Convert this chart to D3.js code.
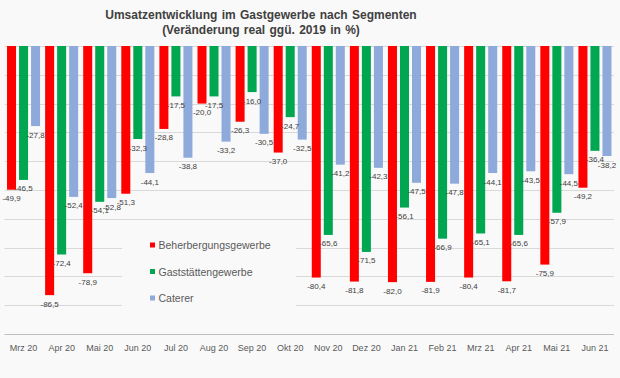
<!DOCTYPE html>
<html>
<head>
<meta charset="utf-8">
<script src="https://cdn.jsdelivr.net/npm/d3@7"></script>
<style>
  html, body { margin: 0; padding: 0; background: #f9f9f9; }
  svg { display: block; font-family: "Liberation Sans", Arial, sans-serif; }
</style>
</head>
<body>
<svg id="chart" width="620" height="378"></svg>
<script>
const categories = ["Mrz 20","Apr 20","Mai 20","Jun 20","Jul 20","Aug 20","Sep 20","Okt 20","Nov 20","Dez 20","Jan 21","Feb 21","Mrz 21","Apr 21","Mai 21","Jun 21"];
const seriesNames = ["Beherbergungsgewerbe","Gaststättengewerbe","Caterer"];
const beherbergung = [-49.9,-86.5,-78.9,-51.3,-28.8,-20.0,-26.3,-37.0,-80.4,-81.8,-82.0,-81.9,-80.4,-81.7,-75.9,-49.2];
const gaststaetten = [-46.5,-72.4,-54.1,-32.3,-17.5,-17.5,-16.0,-24.7,-65.6,-71.5,-56.1,-66.9,-65.1,-65.6,-57.9,-36.4];
const caterer = [-27.8,-52.4,-52.8,-44.1,-38.8,-33.2,-30.5,-32.5,-41.2,-42.3,-47.5,-47.8,-44.1,-43.5,-44.5,-38.2];
const yTicks = [0,-10,-20,-30,-40,-50,-60,-70,-80,-90,-100];
const colors = ["#ff0000","#00a650","#8eaadb"];

const seriesValues = [beherbergung, gaststaetten, caterer];
const svg = d3.select("#chart");

const x0 = d3.scaleBand().domain(categories).range([4.5, 614]).paddingInner(0).paddingOuter(0);
const x1 = d3.scaleBand().domain(seriesNames).range([0, x0.bandwidth()]).paddingInner(0.25).paddingOuter(0.21);
const y = d3.scaleLinear().domain([0, -100]).range([46, 334]);

// gridlines
svg.append("g").selectAll("line").data(yTicks.filter(t => t !== -100)).join("line")
  .attr("x1", 4.5).attr("x2", 614)
  .attr("y1", d => Math.round(y(d)) + 0.5).attr("y2", d => Math.round(y(d)) + 0.5)
  .attr("stroke", "#d9d9d9").attr("stroke-width", 1);

// legend background box (hides gridlines)
svg.append("rect").attr("x", 122).attr("y", 228).attr("width", 174).attr("height", 82).attr("fill", "#f9f9f9");

// x axis
const xAxis = d3.axisBottom(x0).tickSize(0).tickPadding(10);
const gx = svg.append("g").attr("transform", `translate(0,${Math.round(y(-100)) + 0.5})`).call(xAxis);
gx.select(".domain").attr("stroke", "#bfbfbf").attr("d", `M4.5,0H614`);
gx.selectAll("text").attr("fill", "#595959").style("font-size", "9px").style("font-family", "Liberation Sans, Arial, sans-serif");

// bars
const groups = svg.append("g").selectAll("g").data(seriesNames).join("g")
  .attr("fill", (d, i) => colors[i]);
groups.each(function(name, si) {
  d3.select(this).selectAll("rect").data(seriesValues[si]).join("rect")
    .attr("x", (v, i) => x0(categories[i]) + x1(name))
    .attr("y", y(0))
    .attr("width", x1.bandwidth())
    .attr("height", v => y(v) - y(0));
});

// labels
const fmt = v => d3.format(".1f")(v).replace("−", "-").replace(".", ",");
const labels = svg.append("g");
seriesNames.forEach((name, si) => {
  labels.selectAll(null).data(seriesValues[si]).join("text")
    .attr("x", (v, i) => x0(categories[i]) + x1(name) + x1.bandwidth() / 2)
    .attr("y", v => y(v) + 11.5)
    .attr("text-anchor", "middle")
    .attr("fill", "#404040")
    .style("font-size", "8px")
    .text(v => fmt(v));
});

// legend
const legend = svg.append("g").selectAll("g").data(seriesNames).join("g")
  .attr("transform", (d, i) => `translate(150,${245 + i * 26.5})`);
legend.append("rect").attr("x", 0).attr("y", -2.5).attr("width", 5).attr("height", 5).attr("fill", (d, i) => colors[i]);
legend.append("text").attr("x", 8.5).attr("y", 4).attr("fill", "#595959").style("font-size", "10.5px").text(d => d);

// title
const title = svg.append("text").attr("text-anchor", "middle").attr("fill", "#404040")
  .style("font-size", "12px").style("font-weight", "bold").style("word-spacing", "1px");
title.append("tspan").attr("x", 261).attr("y", 19).text("Umsatzentwicklung im Gastgewerbe nach Segmenten");
title.append("tspan").attr("x", 261).attr("y", 33.5).text("(Veränderung real ggü. 2019 in %)");
</script>
</body>
</html>
